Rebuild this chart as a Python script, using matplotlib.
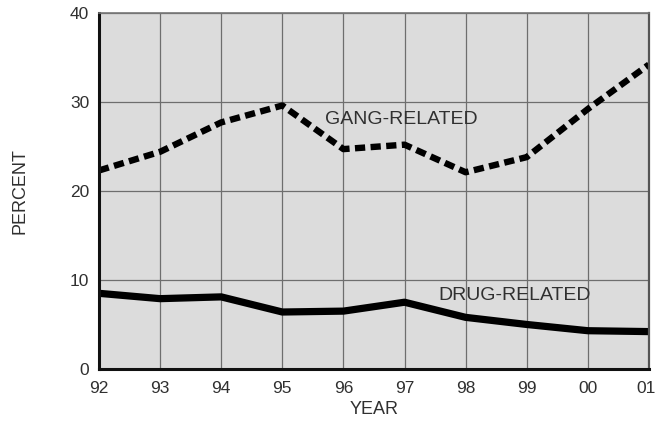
import matplotlib
matplotlib.use("Agg")
import matplotlib.pyplot as plt
from matplotlib.transforms import ScaledTranslation

# data
years = [92, 93, 94, 95, 96, 97, 98, 99, 100, 101]
year_labels = ["92", "93", "94", "95", "96", "97", "98", "99", "00", "01"]
gang_related = [22.3, 24.4, 27.7, 29.6, 24.7, 25.2, 22.1, 23.8, 29.2, 34.2]
drug_related = [8.5, 7.9, 8.1, 6.4, 6.5, 7.5, 5.8, 5.0, 4.3, 4.2]

plt.rcParams['font.family'] = ['Liberation Sans', 'DejaVu Sans']
text_color = "#303030"

fig = plt.figure(figsize=(6.57, 4.29), dpi=100)
ax = fig.add_axes([0.1507, 0.1399, 0.837, 0.830])
ax.set_facecolor("#dcdcdc")

ax.plot(years, gang_related, color="black", lw=4.6, linestyle=(0, (1.6, 0.85)),
        dash_capstyle="butt")
ax.plot(years, drug_related, color="black", lw=5.2, solid_capstyle="butt")

ax.text(95.7, 28.0, "GANG-RELATED", fontsize=14, color=text_color, va="center")
ax.text(97.55, 8.2, "DRUG-RELATED", fontsize=14, color=text_color, va="center")

ax.set_xlim(92, 101)
ax.set_ylim(0, 40)
ax.set_xticks(years)
ax.set_xticklabels(year_labels)
ax.set_yticks([0, 10, 20, 30, 40])
ax.tick_params(length=0, labelsize=12.5, colors=text_color)
ax.tick_params(axis="x", pad=9)
ax.tick_params(axis="y", pad=7)
ax.grid(True, color="#6e6e6e", lw=0.9)
ax.set_axisbelow(True)

# keep the last year label inside the figure
last = ax.get_xticklabels()[-1]
last.set_transform(last.get_transform() + ScaledTranslation(-3 / 100, 0, fig.dpi_scale_trans))

for side in ["left", "bottom"]:
    ax.spines[side].set_linewidth(2.2)
    ax.spines[side].set_color("#111111")
ax.spines["top"].set_color("#777777")
ax.spines["top"].set_linewidth(1.2)
ax.spines["right"].set_color("#555555")
ax.spines["right"].set_linewidth(1.6)

ax.set_xlabel("YEAR", fontsize=13, color=text_color, labelpad=3)
ax.set_ylabel("PERCENT", fontsize=13, color=text_color, labelpad=30)

fig.savefig("out.png", dpi=100)
